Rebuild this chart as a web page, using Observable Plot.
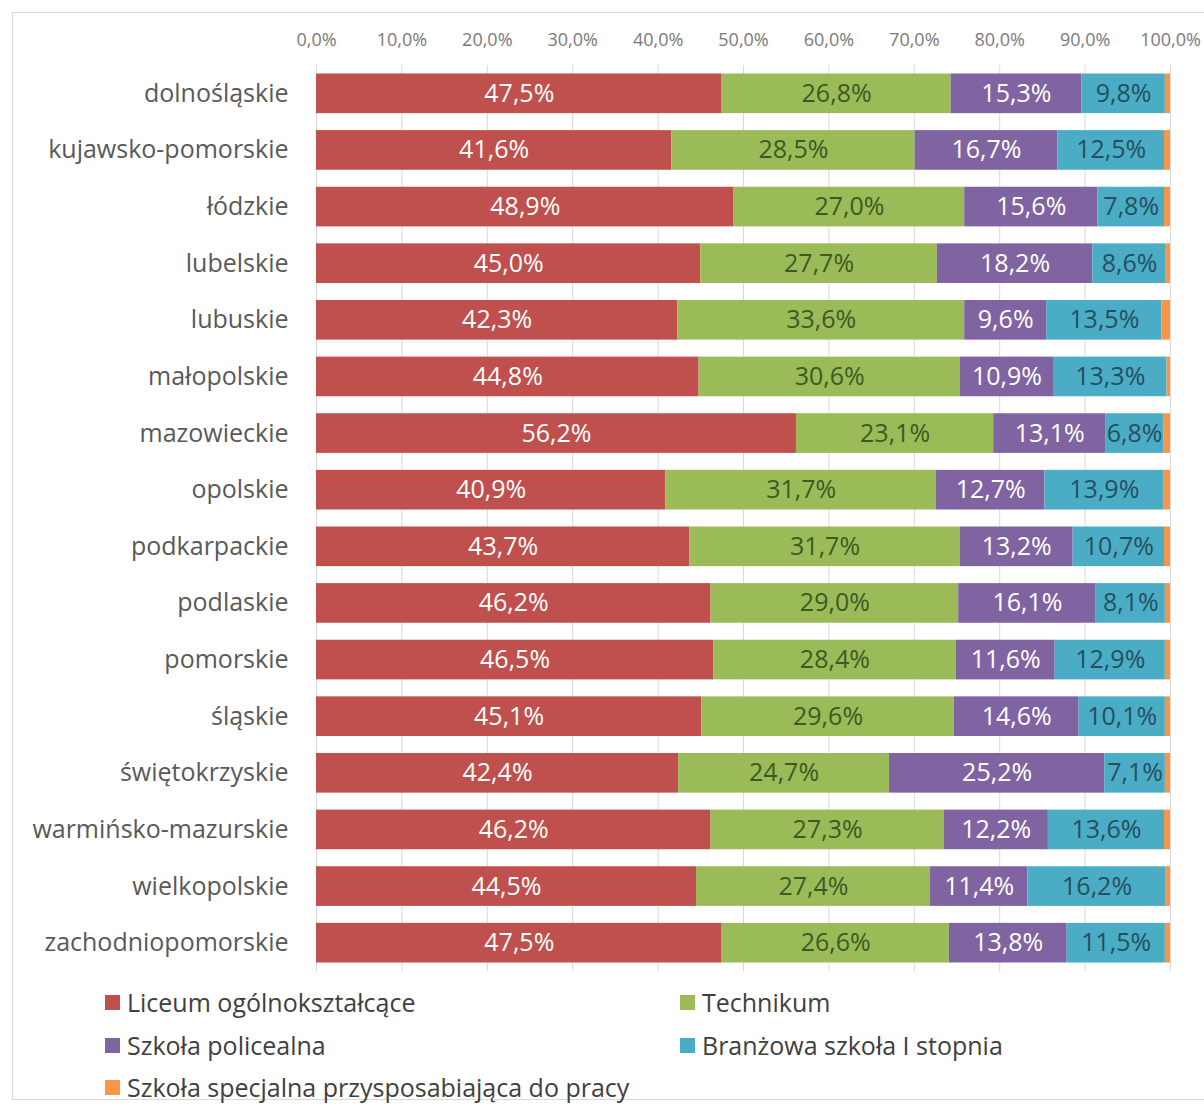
<!DOCTYPE html>
<html>
<head>
<meta charset="utf-8">
<script src="https://cdn.jsdelivr.net/npm/d3@7"></script>
<script src="https://cdn.jsdelivr.net/npm/@observablehq/plot@0.6"></script>
<style>
  body { margin: 0; background: #fff; font-family: "Open Sans", sans-serif; }
  #wrap { position: relative; width: 1204px; height: 1112px; overflow: hidden; }
  #frame { position: absolute; left: 12px; top: 12px; width: 1220px; height: 1088px; border: 1px solid #d9d9d9; box-sizing: border-box; }
  #chart { position: absolute; left: 0; top: 0; }
  .leg { position: absolute; font-size: 25px; color: #404040; display: flex; align-items: center; white-space: nowrap; }
  .leg i { display: inline-block; width: 15px; height: 15px; margin-right: 7px; }
</style>
</head>
<body>
<div id="wrap">
  <div id="frame"></div>
  <div id="chart"></div>
  <div id="legend"></div>
</div>
<script>
const regions = ["dolnośląskie","kujawsko-pomorskie","łódzkie","lubelskie","lubuskie","małopolskie","mazowieckie","opolskie","podkarpackie","podlaskie","pomorskie","śląskie","świętokrzyskie","warmińsko-mazurskie","wielkopolskie","zachodniopomorskie"];
const seriesNames = ["Liceum ogólnokształcące","Technikum","Szkoła policealna","Branżowa szkoła I stopnia","Szkoła specjalna przysposabiająca do pracy"];
const seriesColors = ["#C0504D","#9BBB59","#8064A2","#4BACC6","#F79646"];
const labelColors = ["#ffffff","#3d5a22","#ffffff","#24505f",null];
const liceum     = [47.5,41.6,48.9,45.0,42.3,44.8,56.2,40.9,43.7,46.2,46.5,45.1,42.4,46.2,44.5,47.5];
const technikum  = [26.8,28.5,27.0,27.7,33.6,30.6,23.1,31.7,31.7,29.0,28.4,29.6,24.7,27.3,27.4,26.6];
const policealna = [15.3,16.7,15.6,18.2,9.6,10.9,13.1,12.7,13.2,16.1,11.6,14.6,25.2,12.2,11.4,13.8];
const branzowa   = [9.8,12.5,7.8,8.6,13.5,13.3,6.8,13.9,10.7,8.1,12.9,10.1,7.1,13.6,16.2,11.5];
const specjalna  = [0.6,0.7,0.7,0.5,1.0,0.4,0.8,0.8,0.7,0.6,0.6,0.6,0.6,0.7,0.5,0.6];
const xTicks = [0,10,20,30,40,50,60,70,80,90,100];

const seriesValues = [liceum, technikum, policealna, branzowa, specjalna];
const rows = [];
regions.forEach((r, i) => {
  seriesValues.forEach((vals, s) => {
    rows.push({region: r, series: seriesNames[s], si: s, value: vals[i]});
  });
});
const fmt = v => v.toFixed(1).replace(".", ",") + "%";
const stackOpts = {x: "value", y: "region", z: "series", order: seriesNames};

const chart = Plot.plot({
  width: 1204,
  height: 975,
  marginTop: 65,
  marginBottom: 4,
  marginLeft: 316,
  marginRight: 34,
  style: {fontFamily: "Open Sans, sans-serif", background: "transparent"},
  x: {domain: [0, 100], label: null},
  y: {domain: regions, paddingInner: 0.3, paddingOuter: 0.15, align: 0.5, round: false, label: null},
  color: {domain: seriesNames, range: seriesColors},
  marks: [
    Plot.ruleX(xTicks, {stroke: "#d9d9d9", strokeWidth: 1}),
    Plot.axisX({anchor: "top", ticks: xTicks, tickSize: 0, tickPadding: 20, tickFormat: fmt, fontSize: 18, fill: "#7a7a7a", label: null}),
    Plot.axisY({tickSize: 0, tickPadding: 28, fontSize: 25, fill: "#595959", label: null}),
    Plot.barX(rows, Plot.stackX({...stackOpts, fill: "series"})),
    Plot.textX(rows, Plot.stackX({...stackOpts, filter: d => d.si < 4, text: d => fmt(d.value), fill: d => labelColors[d.si], fontSize: 25}))
  ]
});
document.getElementById("chart").appendChild(chart);

const legend = document.getElementById("legend");
const legPos = [[105, 1002], [680, 1002], [105, 1045], [680, 1045], [105, 1087]];
seriesNames.forEach((name, s) => {
  const el = document.createElement("div");
  el.className = "leg";
  el.style.left = legPos[s][0] + "px";
  el.style.top = (legPos[s][1] - 17) + "px";
  el.style.height = "34px";
  el.innerHTML = `<i style="background:${seriesColors[s]}"></i>${name}`;
  legend.appendChild(el);
});
</script>
</body>
</html>
